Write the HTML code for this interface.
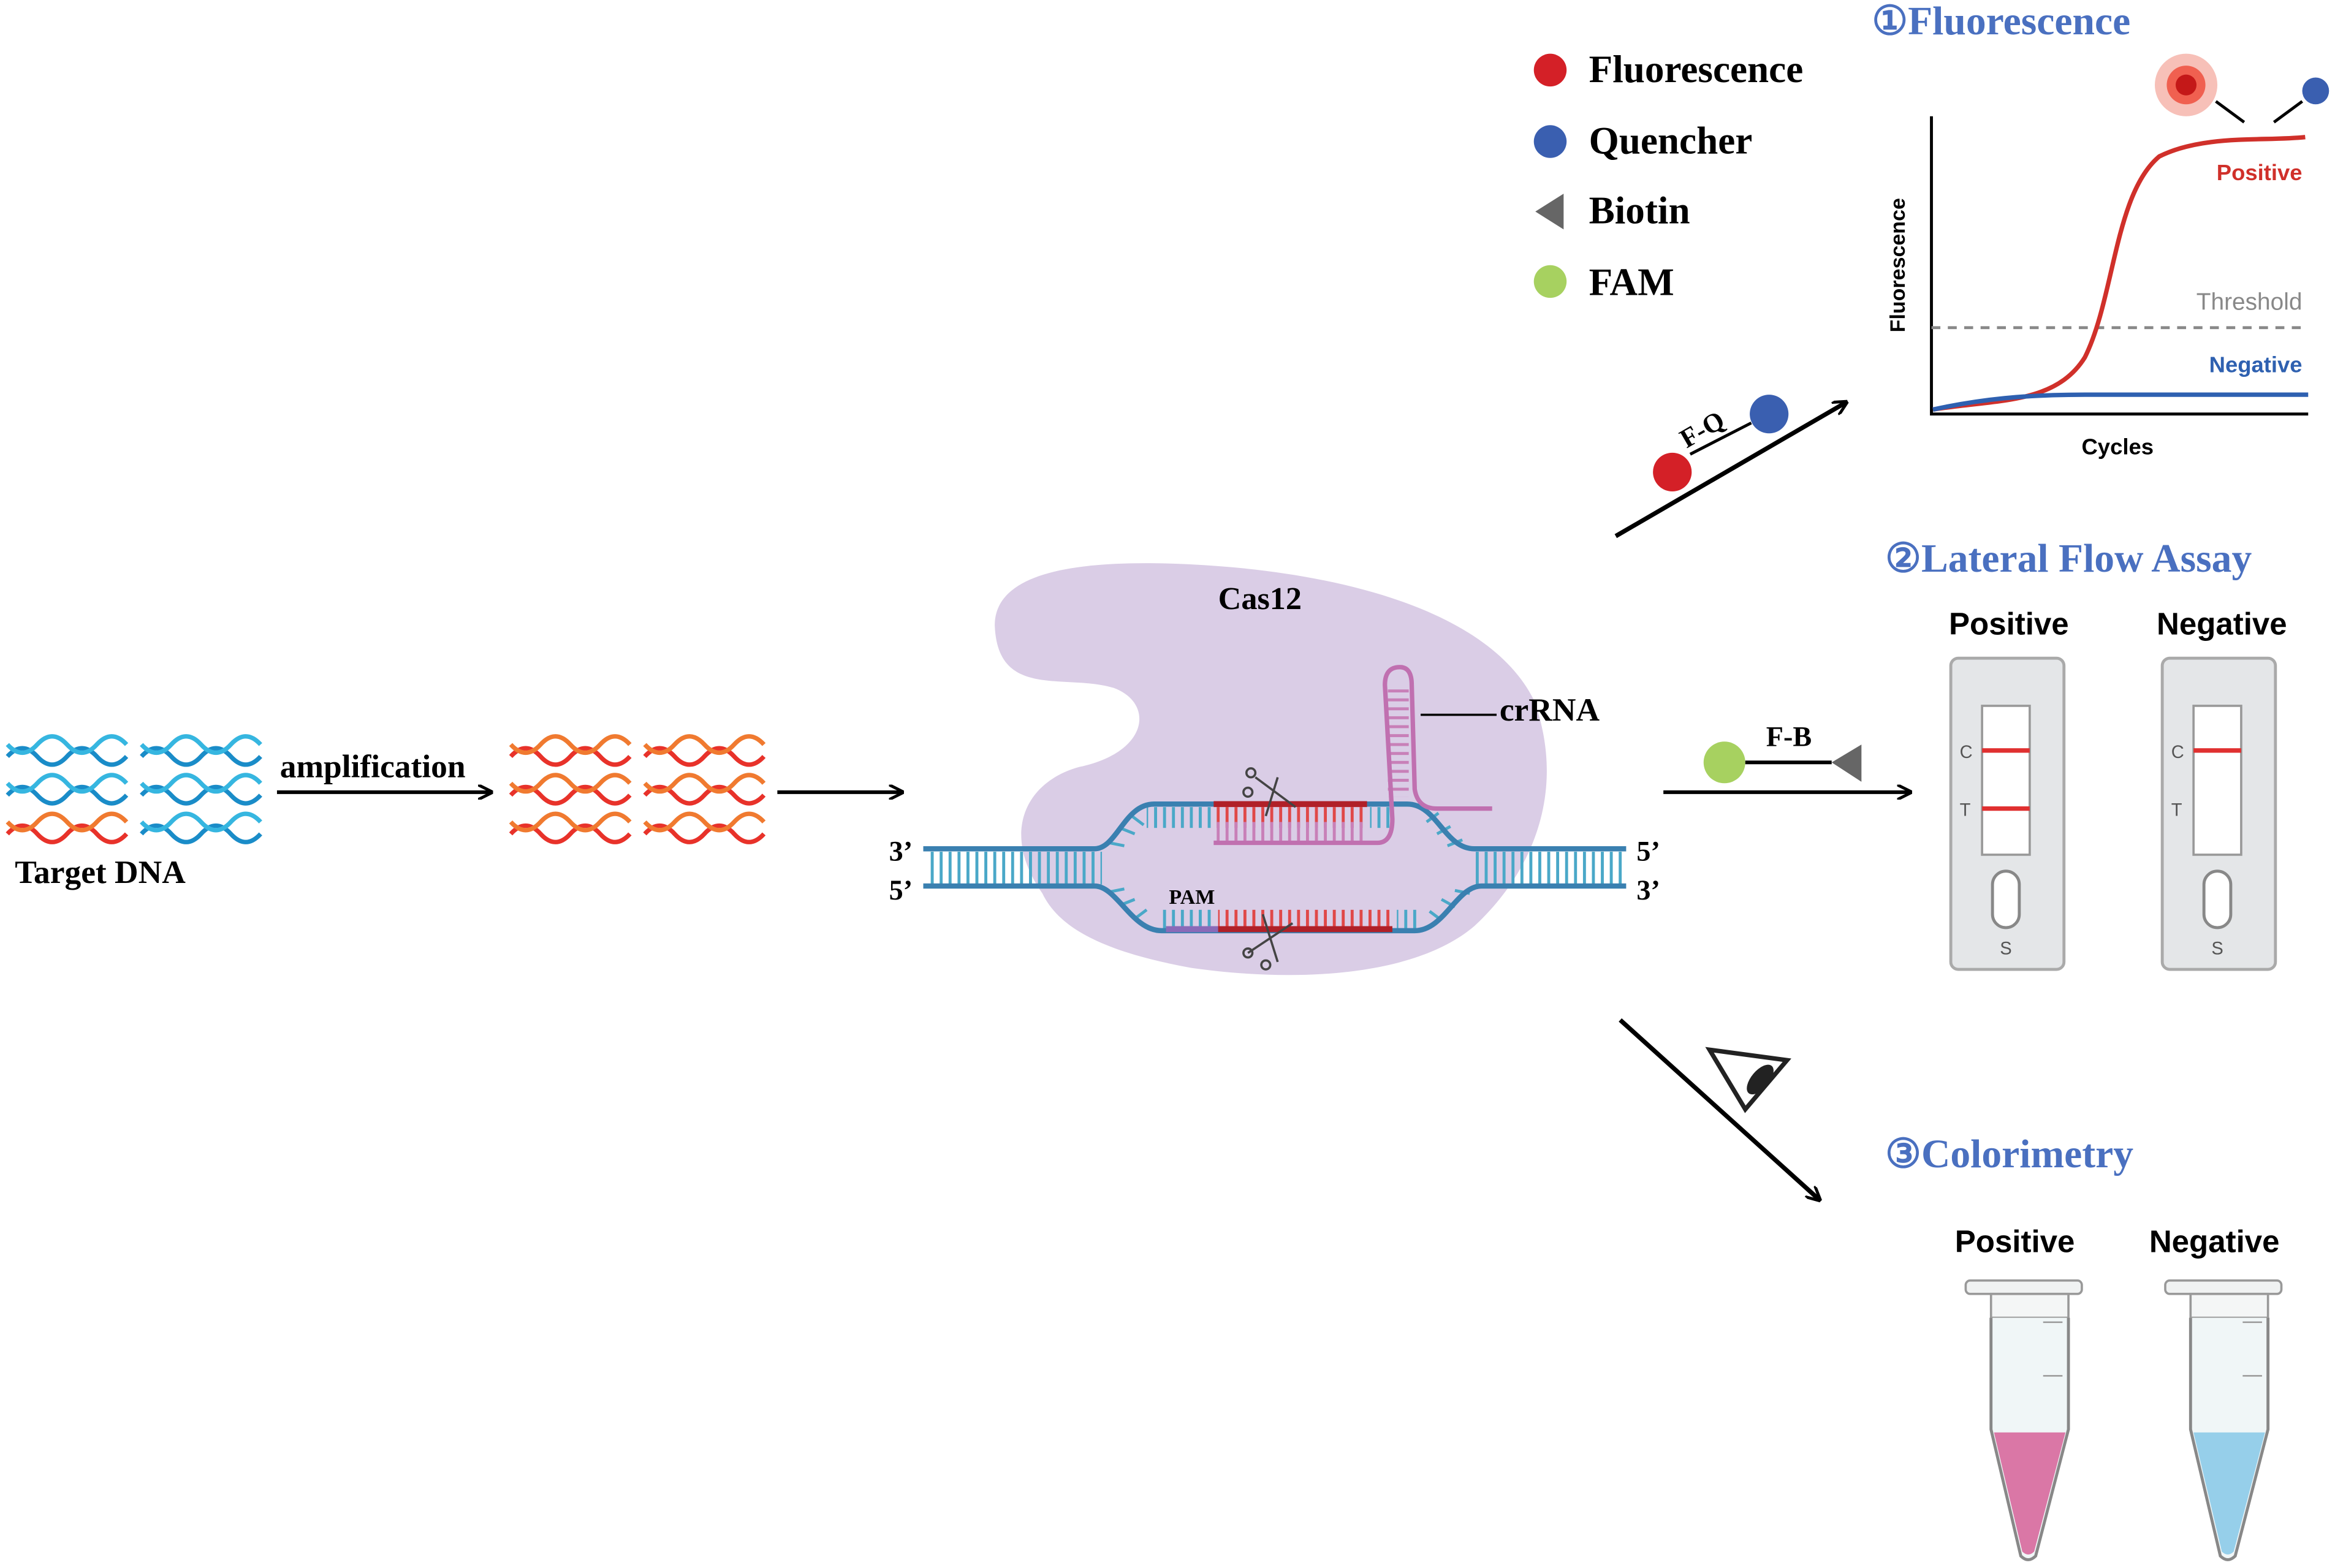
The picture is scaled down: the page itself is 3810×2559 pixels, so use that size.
<!DOCTYPE html>
<html><head><meta charset="utf-8"><style>
html,body{margin:0;padding:0;background:#fff}
svg{display:block}
</style></head><body>
<svg width="3810" height="2559" viewBox="0 0 1568 1053" xmlns="http://www.w3.org/2000/svg">
<defs>
<marker id="ah" markerWidth="10" markerHeight="10" refX="9" refY="5" orient="auto" markerUnits="userSpaceOnUse">
<path d="M0,0 L10,5 L0,10" fill="none" stroke="#000" stroke-width="2"/></marker>
<pattern id="rungs" width="6" height="30" patternUnits="userSpaceOnUse"><rect x="1" y="0" width="2" height="30" fill="#4aa8c8"/></pattern>
<pattern id="rrungs" width="6" height="30" patternUnits="userSpaceOnUse"><rect x="1" y="0" width="2" height="30" fill="#e04848"/></pattern>
<pattern id="prungs" width="6" height="30" patternUnits="userSpaceOnUse"><rect x="1" y="0" width="2" height="30" fill="#c880b8"/></pattern>
<pattern id="hrungs" width="30" height="6" patternUnits="userSpaceOnUse"><rect x="0" y="1" width="30" height="2" fill="#c880b8"/></pattern>
<g id="hb">
<path fill="none" stroke-width="3" stroke="#1a8cc8" d="M5,508 q10,-11 20,0 t20,0 t20,0 t20,0"/>
<path fill="none" stroke-width="3" stroke="#36b6e0" d="M5,500 q10,11 20,0 t20,0 t20,0 t20,0"/>
</g>
<g id="hr">
<path fill="none" stroke-width="3" stroke="#e8322a" d="M5,508 q10,-11 20,0 t20,0 t20,0 t20,0"/>
<path fill="none" stroke-width="3" stroke="#f07a30" d="M5,500 q10,11 20,0 t20,0 t20,0 t20,0"/>
</g>
</defs>
<style>
.t{font-family:"Liberation Serif",serif;font-weight:bold;fill:#000}
.s{font-family:"Liberation Sans",sans-serif;font-weight:bold}
</style>

<use href="#hb"/><use href="#hb" x="90"/>
<use href="#hb" y="26"/><use href="#hb" x="90" y="26"/>
<use href="#hr" y="52"/><use href="#hb" x="90" y="52"/>
<use href="#hr" x="338"/><use href="#hr" x="428"/>
<use href="#hr" x="338" y="26"/><use href="#hr" x="428" y="26"/>
<use href="#hr" x="338" y="52"/><use href="#hr" x="428" y="52"/>

<text class="t" x="10" y="593" font-size="22">Target DNA</text>
<text class="t" x="188" y="522" font-size="22">amplification</text>
<line x1="186" y1="532" x2="330" y2="532" stroke="#000" stroke-width="2.5" marker-end="url(#ah)"/>
<line x1="522" y1="532" x2="606" y2="532" stroke="#000" stroke-width="2.5" marker-end="url(#ah)"/>

<!-- Cas12 blob -->
<path fill="#dacde6" d="M700,600 C672,560 688,525 725,515 C772,505 775,472 748,462 C715,452 670,470 668,420 C668,385 720,375 800,379 C900,384 1000,410 1030,470 C1052,530 1030,585 990,622 C950,656 870,660 800,650 C745,640 712,625 700,600 Z"/>
<text class="t" x="818" y="409" font-size="21.5">Cas12</text>

<!-- DNA -->
<rect x="622" y="572" width="118" height="22" fill="url(#rungs)"/>
<rect x="988" y="572" width="104" height="22" fill="url(#rungs)"/>
<rect x="770" y="542" width="46" height="14" fill="url(#rungs)"/>
<rect x="920" y="542" width="14" height="14" fill="url(#rungs)"/>
<rect x="817" y="542" width="100" height="14" fill="url(#rrungs)"/>
<rect x="817" y="552" width="100" height="13" fill="url(#prungs)"/>
<rect x="780" y="611" width="36" height="13" fill="url(#rungs)"/>
<rect x="938" y="611" width="14" height="13" fill="url(#rungs)"/>
<rect x="818" y="611" width="118" height="13" fill="url(#rrungs)"/>
<g stroke="#4aa8c8" stroke-width="2">
<line x1="745" y1="566" x2="755" y2="568"/><line x1="752" y1="556" x2="762" y2="560"/><line x1="760" y1="548" x2="768" y2="554"/>
<line x1="958" y1="552" x2="966" y2="546"/><line x1="965" y1="560" x2="974" y2="555"/><line x1="972" y1="568" x2="982" y2="564"/>
<line x1="745" y1="599" x2="755" y2="597"/><line x1="752" y1="608" x2="762" y2="604"/><line x1="762" y1="617" x2="770" y2="611"/>
<line x1="960" y1="612" x2="968" y2="618"/><line x1="968" y1="604" x2="977" y2="609"/><line x1="977" y1="598" x2="987" y2="600"/>
</g>
<path d="M620,570 H735 C750,570 755,540 775,540 H945 C965,540 970,570 990,570 H1092" fill="none" stroke="#3a80b0" stroke-width="3.5"/>
<path d="M620,595 H735 C750,595 760,625 780,625 H950 C970,625 978,595 995,595 H1092" fill="none" stroke="#3a80b0" stroke-width="3.5"/>
<line x1="815" y1="540" x2="918" y2="540" stroke="#b02028" stroke-width="4"/>
<line x1="783" y1="624" x2="818" y2="624" stroke="#8a6ab8" stroke-width="4"/>
<line x1="818" y1="624" x2="935" y2="624" stroke="#b02028" stroke-width="4"/>
<rect x="932" y="460" width="14" height="75" fill="url(#hrungs)"/>
<path d="M815,566 H925 Q935,566 935,550 L930,460 Q930,448 940,448 Q948,448 948,460 L950,530 Q952,543 965,543 H1002" fill="none" stroke="#c070b0" stroke-width="3"/>
<line x1="954" y1="480" x2="1005" y2="480" stroke="#000" stroke-width="1.5"/>
<text class="t" x="1007" y="484" font-size="22">crRNA</text>
<text class="t" x="785" y="607" font-size="14">PAM</text>
<text class="t" x="597" y="578" font-size="19">3’</text>
<text class="t" x="597" y="604" font-size="19">5’</text>
<text class="t" x="1099" y="578" font-size="19">5’</text>
<text class="t" x="1099" y="604" font-size="19">3’</text>
<g stroke="#444" stroke-width="1.5" fill="none">
<path d="M843,522 L870,542 M850,548 L858,522"/><circle cx="840" cy="519" r="3"/><circle cx="838" cy="532" r="3"/>
<path d="M838,640 L868,620 M848,614 L858,646"/><circle cx="838" cy="640" r="3"/><circle cx="850" cy="648" r="3"/>
</g>

<!-- arrows right -->
<line x1="1085" y1="360" x2="1240" y2="270" stroke="#000" stroke-width="3" marker-end="url(#ah)"/>
<circle cx="1123" cy="317" r="13" fill="#d42027"/>
<circle cx="1188" cy="278" r="13" fill="#3a5fb0"/>
<line x1="1135" y1="305" x2="1176" y2="284" stroke="#000" stroke-width="2"/>
<text class="t" x="1128" y="296" font-size="18" transform="rotate(-30 1140 290)">F-Q</text>
<line x1="1117" y1="532" x2="1283" y2="532" stroke="#000" stroke-width="2.5" marker-end="url(#ah)"/>
<circle cx="1158" cy="512" r="14" fill="#a7d160"/>
<line x1="1172" y1="512" x2="1230" y2="512" stroke="#000" stroke-width="2.5"/>
<path d="M1250,500 L1250,525 L1230,512 Z" fill="#666"/>
<text class="t" x="1186" y="501" font-size="19">F-B</text>
<line x1="1088" y1="685" x2="1222" y2="806" stroke="#000" stroke-width="3" marker-end="url(#ah)"/>
<path d="M1148,705 L1200,712 L1172,745 Z" fill="none" stroke="#222" stroke-width="3"/>
<ellipse cx="1182" cy="725" rx="6" ry="12" fill="#222" transform="rotate(40 1182 725)"/>

<!-- legend -->
<circle cx="1041" cy="47" r="11" fill="#d42027"/>
<circle cx="1041" cy="95" r="11" fill="#3a5fb0"/>
<path d="M1050,130 L1050,154 L1031,142 Z" fill="#666"/>
<circle cx="1041" cy="189" r="11" fill="#a7d160"/>
<text class="t" x="1067" y="55" font-size="26">Fluorescence</text>
<text class="t" x="1067" y="103" font-size="26">Quencher</text>
<text class="t" x="1067" y="150" font-size="26">Biotin</text>
<text class="t" x="1067" y="198" font-size="26">FAM</text>

<!-- chart -->
<text class="t" x="1257" y="23" font-size="27" style="fill:#4a70c0">①Fluorescence</text>
<circle cx="1468" cy="57" r="21" fill="#f7c0b8"/>
<circle cx="1468" cy="57" r="13" fill="#f06050"/>
<circle cx="1468" cy="57" r="7" fill="#c41818"/>
<line x1="1488" y1="68" x2="1507" y2="82" stroke="#000" stroke-width="2"/>
<line x1="1527" y1="82" x2="1546" y2="68" stroke="#000" stroke-width="2"/>
<circle cx="1555" cy="61" r="9" fill="#3a5fb0"/>
<path d="M1297,78 V278 H1550" fill="none" stroke="#000" stroke-width="2"/>
<line x1="1297" y1="220" x2="1548" y2="220" stroke="#888" stroke-width="2" stroke-dasharray="6,5"/>
<path d="M1298,275 C1340,268 1380,272 1400,240 C1420,200 1420,130 1450,105 C1480,90 1520,95 1548,92" fill="none" stroke="#d0302a" stroke-width="3"/>
<path d="M1298,275 C1330,268 1360,265 1400,265 H1550" fill="none" stroke="#2e60b0" stroke-width="3"/>
<text class="s" x="1546" y="121" font-size="15" fill="#d0302a" text-anchor="end">Positive</text>
<text x="1546" y="208" font-size="16" fill="#888" text-anchor="end" font-family="Liberation Sans,sans-serif">Threshold</text>
<text class="s" x="1546" y="250" font-size="15" fill="#2e60b0" text-anchor="end">Negative</text>
<text class="s" x="1422" y="305" font-size="15" text-anchor="middle">Cycles</text>
<text class="s" x="1279" y="178" font-size="14" text-anchor="middle" transform="rotate(-90 1279 178)">Fluorescence</text>

<!-- LFA -->
<text class="t" x="1266" y="384" font-size="27" style="fill:#4a70c0">②Lateral Flow Assay</text>
<text class="s" x="1349" y="426" font-size="21" text-anchor="middle">Positive</text>
<text class="s" x="1492" y="426" font-size="21" text-anchor="middle">Negative</text>
<g id="strip">
<rect x="1310" y="442" width="76" height="209" rx="5" fill="#e4e6e8" stroke="#aaa" stroke-width="2"/>
<rect x="1331" y="474" width="32" height="100" fill="#fff" stroke="#999" stroke-width="1.5"/>
<rect x="1338" y="585" width="18" height="38" rx="9" fill="#fff" stroke="#888" stroke-width="2"/>
<text x="1316" y="509" font-size="12" fill="#555" font-family="Liberation Sans,sans-serif">C</text>
<text x="1316" y="548" font-size="12" fill="#555" font-family="Liberation Sans,sans-serif">T</text>
<text x="1343" y="641" font-size="12" fill="#555" font-family="Liberation Sans,sans-serif">S</text>
<line x1="1331" y1="504" x2="1363" y2="504" stroke="#e03030" stroke-width="3"/>
</g>
<line x1="1331" y1="543" x2="1363" y2="543" stroke="#e03030" stroke-width="3"/>
<use href="#strip" x="142"/>

<!-- colorimetry -->
<text class="t" x="1266" y="784" font-size="27" style="fill:#4a70c0">③Colorimetry</text>
<text class="s" x="1353" y="841" font-size="21" text-anchor="middle">Positive</text>
<text class="s" x="1487" y="841" font-size="21" text-anchor="middle">Negative</text>
<g id="tube">
<rect x="1320" y="860" width="78" height="9" rx="3" fill="#f0f2f2" stroke="#999" stroke-width="1.5"/>
<rect x="1337" y="869" width="52" height="16" fill="#f4f6f6" stroke="#999" stroke-width="1.5"/>
<path d="M1337,885 V960 L1357,1045 Q1362,1050 1367,1045 L1389,960 V885" fill="#f0f6f7" stroke="#888" stroke-width="2"/>
<line x1="1372" y1="888" x2="1385" y2="888" stroke="#999"/>
<line x1="1372" y1="924" x2="1385" y2="924" stroke="#999"/>
</g>
<path d="M1339,962 H1387 L1366,1042 Q1362,1046 1358,1042 Z" fill="#d66098" opacity="0.85"/>
<use href="#tube" x="134"/>
<path d="M1473,962 H1521 L1500,1042 Q1496,1046 1492,1042 Z" fill="#8ccbe8" opacity="0.9"/>
</svg>
</body></html>
